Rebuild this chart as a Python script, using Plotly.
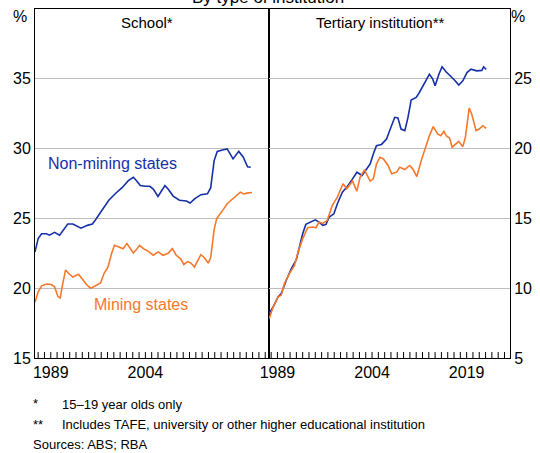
import plotly.graph_objects as go
from plotly.subplots import make_subplots

# school attendance, 15-19 year olds (per cent)
school_nm_x = [1986.5, 1987.0, 1987.55, 1988.3, 1988.8, 1989.6, 1990.4, 1990.9, 1991.7, 1992.5,
               1993.8, 1994.8, 1995.6, 1996.1, 1996.9, 1998.2, 1999.3, 2000.3, 2001.3, 2002.1,
               2002.6, 2003.2, 2003.95, 2004.7, 2005.25, 2006.0, 2007.1, 2007.6, 2008.4, 2009.4,
               2010.5, 2011.1, 2011.8, 2012.8, 2013.84, 2014.36, 2014.9, 2015.4, 2016.2, 2016.97,
               2017.9, 2018.8, 2019.5, 2020.2, 2020.7]
school_nm_y = [22.6, 23.55, 23.9, 23.9, 23.8, 24.0, 23.8, 24.1, 24.6, 24.6,
               24.3, 24.5, 24.6, 24.9, 25.45, 26.3, 26.8, 27.2, 27.7, 27.95,
               27.7, 27.35, 27.3, 27.3, 27.1, 26.57, 27.35, 27.1, 26.6, 26.3,
               26.25, 26.1, 26.4, 26.7, 26.76, 27.2, 29.14, 29.8, 29.9, 29.98,
               29.26, 29.8, 29.4, 28.7, 28.67]

school_m_x = [1986.5, 1987.0, 1987.55, 1988.33, 1989.1, 1989.6, 1990.14, 1990.5, 1990.9, 1991.34,
              1991.97, 1992.5, 1993.4, 1994.05, 1994.8, 1995.36, 1996.14, 1996.9, 1997.44, 1998.06,
              1998.64, 1999.1, 1999.8, 2000.45, 2001.08, 2001.6, 2002.1, 2002.64, 2003.06, 2003.7,
              2004.47, 2005.25, 2006.03, 2006.8, 2007.6, 2008.27, 2008.9, 2009.58, 2010.1, 2010.7,
              2011.23, 2011.77, 2012.28, 2012.8, 2013.33, 2013.95, 2014.36, 2014.9, 2015.3, 2015.8,
              2016.45, 2016.97, 2017.75, 2018.27, 2019.05, 2019.58, 2020.1, 2020.9]
school_m_y = [19.0, 19.74, 20.17, 20.3, 20.26, 20.1, 19.4, 19.3, 20.33, 21.3,
              21.0, 20.8, 21.0, 20.6, 20.2, 20.0, 20.2, 20.38, 21.05, 21.5,
              22.48, 23.07, 22.95, 22.83, 23.2, 22.83, 22.52, 22.8, 23.07, 22.83,
              22.64, 22.36, 22.6, 22.36, 22.5, 22.83, 22.36, 22.1, 21.7, 21.9,
              21.8, 21.52, 21.95, 22.4, 22.2, 21.8, 22.2, 24.2, 24.98, 25.33,
              25.7, 26.05, 26.33, 26.57, 26.88, 26.75, 26.81, 26.86]

# tertiary institution attendance (per cent)
tert_nm_x = [1987.7, 1988.33, 1989.1, 1989.6, 1990.4, 1991.2, 1992.0, 1992.5, 1993.0, 1993.5,
             1994.3, 1995.0, 1995.6, 1996.2, 1996.7, 1997.2, 1997.95, 1998.5, 1999.3, 2000.0,
             2000.8, 2001.6, 2002.4, 2003.2, 2003.7, 2004.2, 2004.7, 2005.5, 2006.3, 2006.8,
             2007.6, 2008.1, 2008.6, 2009.2, 2009.7, 2010.2, 2011.0, 2011.5, 2012.2, 2013.1,
             2013.6, 2014.0, 2014.6, 2015.1, 2015.7, 2016.45, 2017.1, 2017.75, 2018.4, 2019.05,
             2019.7, 2020.6, 2021.4, 2021.7, 2022.1]
tert_nm_y = [8.19, 8.67, 9.38, 9.62, 10.57, 11.4, 12.05, 12.95, 13.9, 14.57,
             14.74, 14.9, 14.74, 14.5, 14.57, 15.1, 15.33, 16.05, 16.88, 17.24,
             17.76, 18.31, 18.07, 18.55, 18.9, 19.62, 20.21, 20.3, 20.69, 21.29,
             22.24, 22.2, 21.4, 21.29, 22.24, 23.48, 23.67, 24.02, 24.62, 25.33,
             25.0, 24.5, 25.33, 25.86, 25.52, 25.2, 24.9, 24.55, 24.86, 25.45,
             25.69, 25.57, 25.6, 25.86, 25.67]

tert_m_x = [1987.7, 1988.33, 1989.1, 1989.6, 1990.1, 1990.9, 1991.7, 1992.2, 1993.0, 1993.8,
            1994.6, 1995.1, 1995.6, 1996.2, 1996.9, 1997.7, 1998.5, 1999.4, 2000.0, 2000.9,
            2001.6, 2002.1, 2002.8, 2003.2, 2003.7, 2004.2, 2004.7, 2005.25, 2005.8, 2006.55,
            2007.1, 2007.9, 2008.4, 2009.2, 2009.95, 2010.45, 2011.1, 2011.8, 2012.3, 2013.1,
            2013.7, 2014.4, 2014.9, 2015.4, 2015.8, 2016.3, 2016.7, 2017.4, 2017.75, 2018.4,
            2018.8, 2019.4, 2019.8, 2020.5, 2021.0, 2021.55, 2022.1]
tert_m_y = [7.83, 8.67, 9.38, 9.5, 10.33, 11.05, 11.64, 12.48, 13.55, 14.33,
            14.38, 14.33, 14.74, 14.64, 14.86, 15.93, 16.52, 17.48, 17.12, 17.67,
            16.95, 17.95, 18.48, 18.07, 17.67, 17.83, 18.9, 19.38, 19.26, 18.79,
            18.19, 18.31, 18.67, 18.5, 18.79, 18.55, 18.0, 19.14, 19.86, 20.93,
            21.57, 21.05, 20.93, 21.24, 20.9, 20.76, 20.1, 20.38, 20.52, 20.14,
            20.81, 22.9, 22.48, 21.29, 21.4, 21.64, 21.45]

left_year_labels = [1989, 2004]
right_year_labels = [1989, 2004, 2019]
left_y_ticks = [15, 20, 25, 30, 35]
right_y_ticks = [5, 10, 15, 20, 25]

BLUE = '#1530a8'
ORANGE = '#f7782c'
FONT = 'Liberation Sans, Arial, sans-serif'

fig = make_subplots(rows=1, cols=2, horizontal_spacing=0)

fig.add_trace(go.Scatter(x=school_nm_x, y=school_nm_y, mode='lines',
                         line=dict(color=BLUE, width=1.6)), row=1, col=1)
fig.add_trace(go.Scatter(x=school_m_x, y=school_m_y, mode='lines',
                         line=dict(color=ORANGE, width=1.6)), row=1, col=1)
fig.add_trace(go.Scatter(x=tert_nm_x, y=tert_nm_y, mode='lines',
                         line=dict(color=BLUE, width=1.6)), row=1, col=2)
fig.add_trace(go.Scatter(x=tert_m_x, y=tert_m_y, mode='lines',
                         line=dict(color=ORANGE, width=1.6)), row=1, col=2)

split = (272 - 35) / 482
fig.update_xaxes(showgrid=False, zeroline=False, showline=True, mirror=True,
                 linecolor='black', linewidth=1, ticks='', tickmode='array',
                 tickfont=dict(size=16, color='black', family=FONT))
fig.update_xaxes(domain=[0, split], range=[1986.5, 2023.53],
                 tickvals=left_year_labels, row=1, col=1)
fig.update_xaxes(domain=[split, 1], range=[1987.59, 2025.875],
                 tickvals=right_year_labels, row=1, col=2)

# yearly tick marks standing up from the bottom axis
for xref, first, last in [('x', 1987, 2023), ('x2', 1988, 2025)]:
    for yr in range(first, last + 1):
        fig.add_shape(type='line', xref=xref, yref=xref.replace('x', 'y') + ' domain',
                      x0=yr, x1=yr, y0=0, y1=6 / 350,
                      line=dict(color='black', width=1))

fig.update_yaxes(showgrid=True, gridcolor='#bdbdbd', gridwidth=1, zeroline=False,
                 showline=True, mirror=True, linecolor='black', linewidth=1, ticks='',
                 tickfont=dict(size=16, color='black', family=FONT))
fig.update_yaxes(range=[15, 40], tickvals=left_y_ticks, side='left', row=1, col=1)
fig.update_yaxes(range=[5, 30], tickvals=right_y_ticks, side='right', row=1, col=2)

anns = [
    dict(text='By type of institution', x=0.49, y=1, xref='paper', yref='paper',
         xanchor='center', yanchor='bottom', yshift=0, font=dict(size=17)),
    dict(text='%', x=-0.031, y=1, xref='paper', yref='paper', xanchor='center',
         yanchor='top', yshift=3, font=dict(size=16)),
    dict(text='%', x=1.0, y=1, xref='paper', yref='paper', xanchor='left',
         yanchor='top', yshift=3, xshift=-1, font=dict(size=16)),
    dict(text='School*', x=split / 2 - 0.01, y=1, xref='paper', yref='paper',
         xanchor='center', yanchor='top', yshift=-3, font=dict(size=15)),
    dict(text='Tertiary institution**', x=(split + 1) / 2 - 0.018, y=1, xref='paper',
         yref='paper', xanchor='center', yanchor='top', yshift=-3, font=dict(size=15)),
    dict(text='Non-mining states', x=1988.3, y=28.9, xref='x', yref='y',
         xanchor='left', yanchor='middle', font=dict(size=16, color=BLUE)),
    dict(text='Mining states', x=1995.5, y=18.8, xref='x', yref='y',
         xanchor='left', yanchor='middle', font=dict(size=16, color=ORANGE)),
    dict(text='*', x=0, y=-0.13, xref='paper', yref='paper', xanchor='left',
         yanchor='middle', xshift=-4, font=dict(size=13)),
    dict(text='15–19 year olds only', x=0, y=-0.134, xref='paper', yref='paper',
         xanchor='left', yanchor='middle', xshift=25, font=dict(size=13)),
    dict(text='**', x=0, y=-0.19, xref='paper', yref='paper', xanchor='left',
         yanchor='middle', xshift=-4, font=dict(size=13)),
    dict(text='Includes TAFE, university or other higher educational institution', x=0,
         y=-0.191, xref='paper', yref='paper', xanchor='left', yanchor='middle',
         xshift=25, font=dict(size=13)),
    dict(text='Sources: ABS; RBA', x=0, y=-0.249, xref='paper', yref='paper',
         xanchor='left', yanchor='middle', xshift=-4, font=dict(size=13)),
]
for a in anns:
    a['showarrow'] = False
    a.setdefault('font', {})
    a['font'].setdefault('color', 'black')
    a['font']['family'] = FONT
    fig.add_annotation(**a)

fig.update_layout(width=540, height=453, margin=dict(l=35, r=23, t=8, b=95),
                  plot_bgcolor='white', paper_bgcolor='white', showlegend=False,
                  font=dict(family=FONT, color='black'))

# the page's default 8px body margin would push the 540x453 figure off the window
fig.write_html('out.html', config={'displayModeBar': False},
               post_script="document.body.style.margin='0';document.body.style.overflow='hidden';")
